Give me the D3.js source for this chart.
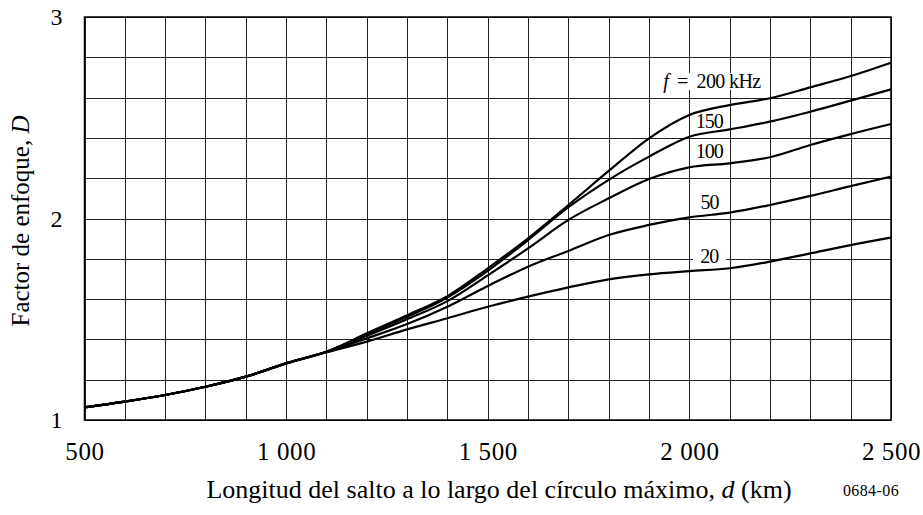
<!DOCTYPE html>
<html lang="es">
<head>
<meta charset="utf-8">
<title>Factor de enfoque</title>
<script src="https://d3js.org/d3.v7.min.js"></script>
<style>
  body { margin: 0; background: #fff; }
  svg, svg text { font-family: "Liberation Serif", Tinos, "DejaVu Serif", serif !important; fill: #000; }
  .grid line { stroke: #222; stroke-width: 1; shape-rendering: crispEdges; }
  .grid path { display: none; }
  .curve { fill: none; stroke: #000; stroke-width: 2.2; }
</style>
</head>
<body>
<div id="chart"></div>
<script>
// distance along the great circle (km)
var distances = [500, 600, 700, 800, 900, 1000, 1100, 1200, 1300, 1400, 1500, 1600, 1700, 1800, 1900, 2000, 2100, 2200, 2300, 2400, 2500];
// focusing factor D for each frequency
var f20  = [1.063, 1.091, 1.124, 1.165, 1.215, 1.281, 1.336, 1.389, 1.450, 1.505, 1.562, 1.612, 1.658, 1.698, 1.723, 1.739, 1.753, 1.786, 1.827, 1.868, 1.905];
var f50  = [1.063, 1.091, 1.124, 1.165, 1.215, 1.281, 1.339, 1.405, 1.476, 1.562, 1.665, 1.761, 1.839, 1.918, 1.968, 2.006, 2.029, 2.067, 2.112, 2.161, 2.208];
var f100 = [1.063, 1.091, 1.124, 1.165, 1.215, 1.281, 1.339, 1.418, 1.500, 1.590, 1.718, 1.852, 1.993, 2.100, 2.196, 2.254, 2.274, 2.304, 2.365, 2.419, 2.469];
var f150 = [1.063, 1.091, 1.124, 1.165, 1.215, 1.281, 1.339, 1.425, 1.512, 1.608, 1.740, 1.893, 2.056, 2.192, 2.307, 2.406, 2.442, 2.481, 2.530, 2.585, 2.641];
var f200 = [1.063, 1.091, 1.124, 1.165, 1.215, 1.281, 1.339, 1.430, 1.520, 1.615, 1.753, 1.902, 2.067, 2.236, 2.398, 2.514, 2.563, 2.597, 2.651, 2.707, 2.773];
var series = [f20, f50, f100, f150, f200];

var xTicks = [500, 1000, 1500, 2000, 2500];
var yTicks = [1, 2, 3];
var xGrid = d3.range(500, 2501, 100);
var yGrid = d3.range(1, 3.01, 0.2);

// curve labels: [text, x (km), D at baseline]
var labels = [["150", 2049, 2.451], ["100", 2049, 2.299], ["50", 2050, 2.047], ["20", 2049, 1.778]];

var width = 923, height = 515;
var margin = {top: 17, right: 32, bottom: 95, left: 84.5};
var w = width - margin.left - margin.right,
    h = height - margin.top - margin.bottom;

var serif = "'Liberation Serif', Tinos, 'DejaVu Serif', serif";

var svg = d3.select("#chart").append("svg")
    .attr("width", width)
    .attr("height", height)
    .attr("font-family", serif);

var g = svg.append("g")
    .attr("transform", "translate(" + margin.left + "," + margin.top + ")");

var x = d3.scaleLinear().domain([500, 2500]).range([0, w]);
var y = d3.scaleLinear().domain([1, 3]).range([h, 0]);

// grid
g.append("g").attr("class", "grid")
    .attr("transform", "translate(0," + h + ")")
    .call(d3.axisBottom(x).tickValues(xGrid).tickSize(-h).tickFormat(""));
g.append("g").attr("class", "grid")
    .call(d3.axisLeft(y).tickValues(yGrid).tickSize(-w).tickFormat(""));

// frame
g.append("rect")
    .attr("width", w).attr("height", h)
    .attr("fill", "none").attr("stroke", "#000").attr("stroke-width", 1.5);

// tick labels
var xAxis = g.append("g")
    .attr("transform", "translate(0," + h + ")")
    .call(d3.axisBottom(x).tickValues(xTicks).tickSize(0).tickPadding(22).tickFormat(function(d) {
      return d >= 1000 ? String(d).slice(0, 1) + " " + String(d).slice(1) : String(d);
    }));
xAxis.select(".domain").remove();
xAxis.attr("font-family", serif).attr("font-size", 25);
xAxis.selectAll("text").attr("letter-spacing", 0.6);

var yAxis = g.append("g")
    .call(d3.axisLeft(y).tickValues(yTicks).tickSize(0).tickPadding(22).tickFormat(d3.format("d")));
yAxis.select(".domain").remove();
yAxis.attr("font-family", serif).attr("font-size", 24);

// curves
var line = d3.line()
    .x(function(d, i) { return x(distances[i]); })
    .y(function(d) { return y(d); })
    .curve(d3.curveMonotoneX);

g.selectAll(".curve")
    .data(series)
  .enter().append("path")
    .attr("class", "curve")
    .attr("d", line);

// curve labels
var lab = g.selectAll(".lab")
    .data(labels)
  .enter().append("g")
    .attr("class", "lab");
lab.each(function(d) {
  var t = d3.select(this).append("text")
      .attr("x", x(d[1]))
      .attr("y", y(d[2]))
      .attr("text-anchor", "middle")
      .attr("font-size", 20)
      .attr("letter-spacing", -1)
      .text(d[0]);
  if (d[0] === "20") {
    var b = t.node().getBBox();
    d3.select(this).insert("rect", "text")
      .attr("x", b.x - 7).attr("y", b.y + 2)
      .attr("width", b.width + 14).attr("height", b.height - 4)
      .attr("fill", "#fff");
  }
});

// f = 200 kHz
var fl = g.append("g");
var ft = fl.append("text")
    .attr("x", x(2056))
    .attr("y", y(2.648))
    .attr("text-anchor", "middle")
    .attr("font-size", 20)
    .attr("letter-spacing", -0.6)
    .attr("xml:space", "preserve")
    .style("white-space", "pre");
ft.append("tspan").attr("font-style", "italic").text("f");
ft.append("tspan").text("  =  200 kHz");
var fb = ft.node().getBBox();
fl.insert("rect", "text")
    .attr("x", fb.x - 2).attr("y", fb.y + 3)
    .attr("width", fb.width + 4).attr("height", fb.height - 6)
    .attr("fill", "#fff");

// axis titles
var xt = svg.append("text")
    .attr("x", 499)
    .attr("y", 498)
    .attr("text-anchor", "middle")
    .attr("font-size", 26);
xt.append("tspan").text("Longitud del salto a lo largo del círculo máximo, ");
xt.append("tspan").attr("font-style", "italic").text("d");
xt.append("tspan").text(" (km)");

svg.append("text")
    .attr("x", 871)
    .attr("y", 496)
    .attr("text-anchor", "middle")
    .attr("font-size", 16)
    .attr("letter-spacing", 0.4)
    .text("0684-06");

var yt = svg.append("text")
    .attr("transform", "translate(29,221) rotate(-90)")
    .attr("text-anchor", "middle")
    .attr("font-size", 25);
yt.append("tspan").text("Factor de enfoque, ");
yt.append("tspan").attr("font-style", "italic").text("D");
</script>
</body>
</html>
